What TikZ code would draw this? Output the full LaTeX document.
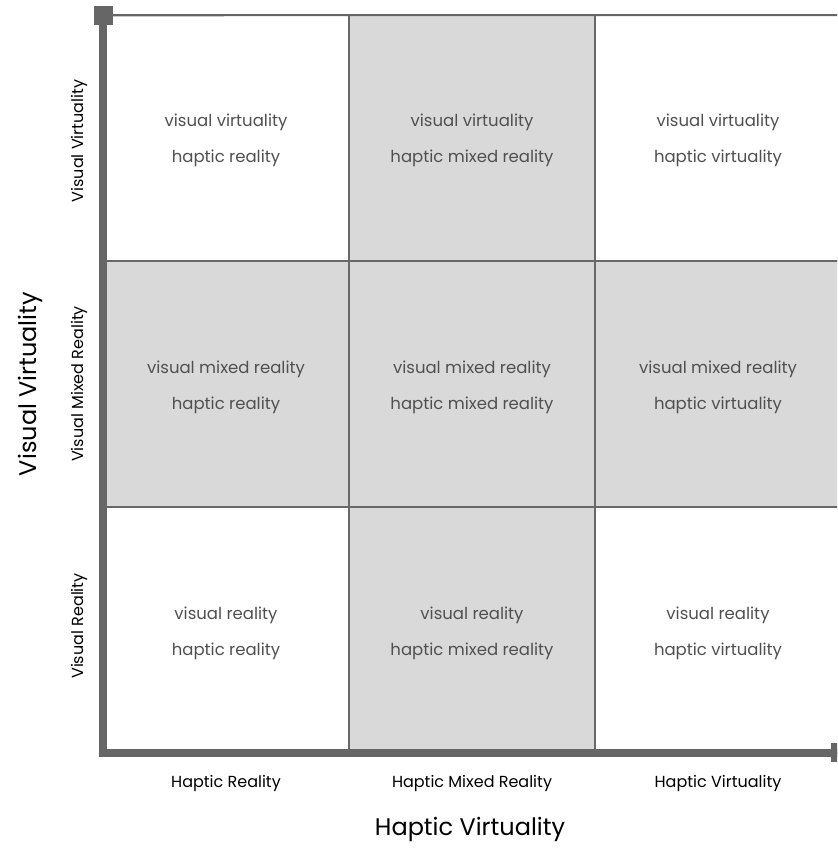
\documentclass[tikz,border=0pt]{standalone}
\usepackage{fontspec}
\setmainfont{Poppins}
\definecolor{axisgrey}{HTML}{666666}
\definecolor{gridgrey}{HTML}{686868}
\definecolor{cellgrey}{HTML}{D9D9D9}
\definecolor{celltext}{HTML}{505050}
\begin{document}
\begin{tikzpicture}[x=1pt,y=-1pt,
  cellbox/.style={draw=gridgrey, line width=2pt, minimum width=246pt, minimum height=246pt, inner sep=0pt, outer sep=0pt},
  lastcol/.style={minimum width=290pt},
  shaded/.style={cellbox, fill=cellgrey},
  plain/.style={cellbox, fill=white},
  celltxt/.style={text=celltext, font=\fontsize{16.5}{18}\selectfont, anchor=base, inner sep=0pt},
  ticklbl/.style={text=black, font=\fontsize{16}{18}\selectfont, anchor=base, inner sep=0pt},
  axislbl/.style={text=black, font=\fontsize{24}{28}\selectfont, anchor=base, inner sep=0pt},
  axisend/.style={fill=axisgrey, minimum size=18.5pt, inner sep=0pt, outer sep=0pt},
]
\useasboundingbox (0,0) rectangle (837,850);
\clip (0,0) rectangle (837,850);

% grid of cells (column x row); the last column runs on past the right edge
\node[plain]           (c11) at (226,138) {};
\node[shaded]          (c21) at (472,138) {};
\node[plain, lastcol]  (c31) at (740,138) {};
\node[shaded]          (c12) at (226,384) {};
\node[shaded]          (c22) at (472,384) {};
\node[shaded, lastcol] (c32) at (740,384) {};
\node[plain]           (c13) at (226,630) {};
\node[shaded]          (c23) at (472,630) {};
\node[plain, lastcol]  (c33) at (740,630) {};

% cell texts: first line above, second line below the row centre
\foreach \col/\cx in {1/226, 2/472, 3/718} {
  \coordinate (x\col) at (\cx,0);
}
\node[celltxt] (t11a) at (x1 |- 0,127) {visual virtuality};
\node[celltxt] (t11b) at (x1 |- 0,163) {haptic reality};
\node[celltxt] (t21a) at (x2 |- 0,127) {visual virtuality};
\node[celltxt] (t21b) at (x2 |- 0,163) {haptic mixed reality};
\node[celltxt] (t31a) at (x3 |- 0,127) {visual virtuality};
\node[celltxt] (t31b) at (x3 |- 0,163) {haptic virtuality};
\node[celltxt] (t12a) at (x1 |- 0,373) {visual mixed reality};
\node[celltxt] (t12b) at (x1 |- 0,409) {haptic reality};
\node[celltxt] (t22a) at (x2 |- 0,373) {visual mixed reality};
\node[celltxt] (t22b) at (x2 |- 0,409) {haptic mixed reality};
\node[celltxt] (t32a) at (x3 |- 0,373) {visual mixed reality};
\node[celltxt] (t32b) at (x3 |- 0,409) {haptic virtuality};
\node[celltxt] (t13a) at (x1 |- 0,619) {visual reality};
\node[celltxt] (t13b) at (x1 |- 0,655) {haptic reality};
\node[celltxt] (t23a) at (x2 |- 0,619) {visual reality};
\node[celltxt] (t23b) at (x2 |- 0,655) {haptic mixed reality};
\node[celltxt] (t33a) at (x3 |- 0,619) {visual reality};
\node[celltxt] (t33b) at (x3 |- 0,655) {haptic virtuality};

% axes with square ends
\node[axisend] (topend) at (103.3,15.3) {};
\node[axisend] (rightend) at (840,752.5) {};
\draw[axisgrey, line width=2pt] (topend.center) -- (c31.north east);
\draw[axisgrey, line width=8pt, line join=miter] (topend.center) |- (rightend.center);

% column labels
\node[ticklbl] (hr)  at (x1 |- 0,787) {Haptic Reality};
\node[ticklbl] (hmr) at (x2 |- 0,787) {Haptic Mixed Reality};
\node[ticklbl] (hv)  at (x3 |- 0,787) {Haptic Virtuality};
\node[axislbl] (hax) at (470,835) {Haptic Virtuality};

% row labels
\node[ticklbl, rotate=90] (vv)  at (83,141) {Visual Virtuality};
\node[ticklbl, rotate=90] (vmr) at (83,384) {Visual Mixed Reality};
\node[ticklbl, rotate=90] (vr)  at (83,626) {Visual Reality};
\node[axislbl, rotate=90] (vax) at (36,384) {Visual Virtuality};
\end{tikzpicture}
\end{document}
